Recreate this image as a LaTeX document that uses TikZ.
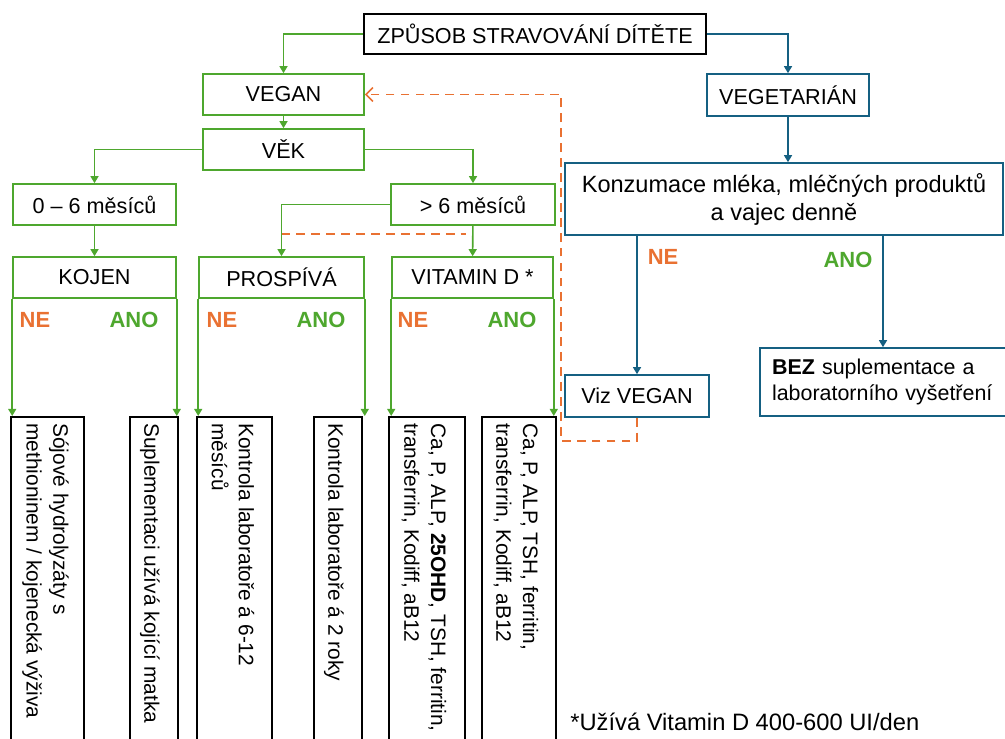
\documentclass[tikz,border=0pt]{standalone}
\usepackage{fontspec}
\setmainfont{Liberation Sans}
\usetikzlibrary{arrows.meta}
\definecolor{zelena}{HTML}{4EA72E}
\definecolor{modra}{HTML}{156082}
\definecolor{oranzova}{HTML}{E97132}

\begin{document}
\begin{tikzpicture}[x=0.02cm, y=-0.02cm,
    >={Triangle[length=4pt,width=4.5pt]},
    krabice/.style={draw, rectangle, inner sep=0pt, minimum height=0.82cm,
                    font=\fontsize{12.3}{15}\selectfont},
    zelbox/.style={krabice, draw=zelena, line width=0.9pt},
    modbox/.style={krabice, draw=modra, line width=0.9pt},
    cerbox/.style={krabice, draw=black, line width=1.2pt},
    zelcara/.style={->, zelena, line width=0.9pt},
    modcara/.style={->, modra, line width=0.9pt},
    zpetcara/.style={oranzova, line width=0.9pt, dash pattern=on 5pt off 3.5pt},
    nelabel/.style={font=\fontsize{12.5}{15}\selectfont\bfseries, text=oranzova},
    anolabel/.style={font=\fontsize{12.5}{15}\selectfont\bfseries, text=zelena},
    svisle/.style={rotate=-90, anchor=west, align=left, inner sep=0pt,
                   font=\fontsize{11.9}{15.3}\selectfont}
]

    \useasboundingbox (0,0) rectangle (1005,738);
    \clip (0,0) rectangle (1005,738);

    % hlavni box
    \node[cerbox, minimum width=6.84cm, minimum height=0.8cm] (zpusob) at (535, 34)
        {ZPŮSOB STRAVOVÁNÍ DÍTĚTE};

    % vegan vetev
    \node[zelbox, minimum width=3.22cm] (vegan) at (283.5, 94.5) {VEGAN};
    \node[zelbox, minimum width=3.22cm] (vek) at (283.5, 149.5) {VĚK};
    \node[zelbox, minimum width=3.26cm] (mes06) at (94.5, 204.5) {0 – 6 měsíců};
    \node[zelbox, minimum width=3.28cm] (mes6) at (473, 204.5) {> 6 měsíců};
    \node[zelbox, minimum width=3.26cm] (kojen) at (94.5, 277.5) {KOJEN};
    \node[zelbox, minimum width=3.3cm] (prospiva) at (281.5, 277.5) {PROSPÍVÁ};
    \node[zelbox, minimum width=3.22cm] (vitd) at (472.5, 277.5) {VITAMIN D *};

    \draw[zelcara] (zpusob.west) -| (vegan.north);
    \draw[zelcara] (vegan) -- (vek);
    \draw[zelcara] (vek.west) -| (mes06.north);
    \draw[zelcara] (vek.east) -| (mes6.north);
    \draw[zelcara] (mes06) -- (kojen);
    \draw[zelcara] (mes6.west) -| (prospiva.north);
    \draw[zelcara] (mes6) -- (vitd);

    % NE / ANO
    \node[nelabel] (ne1) at (35, 320) {NE};
    \node[anolabel] (ano1) at (134, 320) {ANO};
    \node[nelabel] (ne2) at (222, 320) {NE};
    \node[anolabel] (ano2) at (321, 320) {ANO};
    \node[nelabel] (ne3) at (413, 320) {NE};
    \node[anolabel] (ano3) at (512, 320) {ANO};

    % svisle boxy
    \node[cerbox, minimum width=1.46cm, minimum height=6.86cm] (t1) at (47.5, 588.5) {};
    \node[cerbox, minimum width=0.96cm, minimum height=6.86cm] (t2) at (154, 588.5) {};
    \node[cerbox, minimum width=1.5cm, minimum height=6.86cm] (t3) at (234.5, 588.5) {};
    \node[cerbox, minimum width=0.96cm, minimum height=6.86cm] (t4) at (338, 588.5) {};
    \node[cerbox, minimum width=1.52cm, minimum height=6.86cm] (t5) at (427, 588.5) {};
    \node[cerbox, minimum width=1.48cm, minimum height=6.86cm] (t6) at (519, 588.5) {};

    \node[svisle] (t1text) at (45.5, 423) {Sójové hydrolyzáty s\\methioninem / kojenecká výživa};
    \node[svisle] (t2text) at (150, 423) {Suplementaci užívá kojící matka};
    \node[svisle] (t3text) at (233, 423) {Kontrola laboratoře á 6-12\\měsíců};
    \node[svisle] (t4text) at (334, 423) {Kontrola laboratoře á 2 roky};
    \node[svisle] (t5text) at (424, 423) {Ca, P, ALP, \textbf{25OHD}, TSH, ferritin,\\transferrin, Kodiff, aB12};
    \node[svisle] (t6text) at (516, 423) {Ca, P, ALP, TSH, ferritin,\\transferrin, Kodiff, aB12};

    \draw[zelcara] (kojen.south west) -- (kojen.south west |- t1.north);
    \draw[zelcara] (kojen.south east) -- (kojen.south east |- t2.north);
    \draw[zelcara] (prospiva.south west) -- (prospiva.south west |- t3.north);
    \draw[zelcara] (prospiva.south east) -- (prospiva.south east |- t4.north);
    \draw[zelcara] (vitd.south west) -- (vitd.south west |- t5.north);
    \draw[zelcara] (vitd.south east) -- (vitd.south east |- t6.north);

    % vegetarian vetev
    \node[modbox, minimum width=3.24cm, minimum height=0.84cm] (vegetarian) at (788, 95) {VEGETARIÁN};
    \node[modbox, minimum width=8.76cm, minimum height=1.44cm, align=center,
          font=\fontsize{13.4}{15.9}\selectfont] (konzum) at (784, 199)
        {Konzumace mléka, mléčných produktů\\a vajec denně};
    \node[modbox, minimum width=2.88cm, minimum height=0.84cm] (vizvegan) at (637, 396) {Viz VEGAN};
    \node[modbox, minimum height=1.36cm, text width=4.44cm, inner xsep=0.24cm, align=left,
          font=\fontsize{12.2}{15.3}\selectfont] (bez) at (883, 382)
        {\textbf{BEZ} suplementace a\\laboratorního vyšetření};

    \draw[modcara] (zpusob.east) -| (vegetarian.north);
    \draw[modcara] (vegetarian) -- (vegetarian |- konzum.north);
    \draw[modcara] (konzum.south -| vizvegan.north) -- (vizvegan.north);
    \draw[modcara] (konzum.south -| bez.north) -- (bez.north);

    \node[nelabel] (ne4) at (663, 257) {NE};
    \node[anolabel] (ano4) at (848, 260) {ANO};

    % zpet na VEGAN
    \coordinate (zpetdole) at (561, 441);
    \coordinate (zpetnahore) at (561, 94.5);
    \draw[zpetcara, -{Straight Barb[length=4pt,width=8pt]}]
        (vizvegan.south) |- (zpetdole) -- (zpetnahore) -- (vegan.east);
    \coordinate (carkaL) at (281.5, 234);
    \coordinate (carkaR) at (466, 234);
    \draw[zpetcara] (carkaL) -- (carkaR);

    % poznamka
    \node[anchor=west, inner sep=0pt, font=\fontsize{13.5}{16}\selectfont] (pozn) at (570, 722)
        {*Užívá Vitamin D 400-600 UI/den};

\end{tikzpicture}
\end{document}
